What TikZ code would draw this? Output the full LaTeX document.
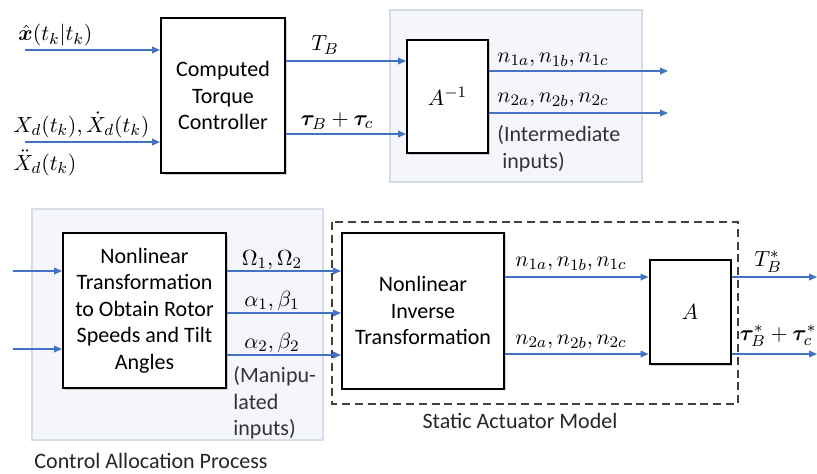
\documentclass[tikz,border=0pt]{standalone}
\usepackage{fontspec}
\setmainfont{Carlito}
\usepackage{amsmath,bm}
\usetikzlibrary{positioning,arrows.meta,shadows}

\definecolor{sigblue}{HTML}{4472C4}
\definecolor{panelfill}{HTML}{F4F6FB}
\definecolor{paneledge}{HTML}{D6DCE8}

\begin{document}
\begin{tikzpicture}[x=0.5pt, y=-0.5pt,
  blk/.style   = {draw, line width=1pt, fill=white, align=center, font=\fontsize{11}{13.3}\selectfont,
                  drop shadow={shadow xshift=0.8pt, shadow yshift=-0.8pt, opacity=.35}},
  sig/.style   = {-{Triangle[length=4pt,width=3.4pt]}, sigblue, line width=0.6pt},
  lab/.style   = {font=\fontsize{11}{13.3}\selectfont, inner sep=0pt},
  note/.style  = {lab, align=left, anchor=north west, text=black!80},
  panel/.style = {draw=paneledge, fill=panelfill, line width=0.6pt},
  grp/.style   = {draw=black!75, dash pattern=on 4pt off 2.4pt, line width=0.7pt}
]
\useasboundingbox (0,0) rectangle (817,473);

% ================= Upper chain: controller and A^{-1} =================
\draw[panel] (390,10) rectangle (642,182);

\node[blk, minimum width=62pt, minimum height=77.5pt]   (ctrl) at (223,95.5) {Computed\\Torque\\Controller};
\node[blk, minimum width=40.5pt, minimum height=56.5pt] (ainv) at (447.5,96.5) {$A^{-1}$};

\coordinate (in1) at (25,50);
\coordinate (in2) at (25,142);
\coordinate (tb)  at (0,61);
\coordinate (tau) at (0,134);
\coordinate (n1)  at (668,71);
\coordinate (n2)  at (668,113);

\draw[sig] (in1) -- (ctrl.west |- in1);
\draw[sig] (in2) -- (ctrl.west |- in2);
\node[lab, anchor=west] (xhat) at (18,35)  {$\hat{\bm{x}}(t_k|t_k)$};
\node[lab, anchor=west] (xd)   at (13,125) {$X_d(t_k), \dot{X}_d(t_k)$};
\node[lab, anchor=west] (xdd)  at (13,163) {$\ddot{X}_d(t_k)$};

\draw[sig] (ctrl.east |- tb)  -- (ainv.west |- tb);
\draw[sig] (ctrl.east |- tau) -- (ainv.west |- tau);
\node[lab] (tblab)  at (325,45)  {$T_B$};
\node[lab] (taulab) at (337,121) {$\bm{\tau}_B + \bm{\tau}_c$};

\draw[sig] (ainv.east |- n1) -- (n1);
\draw[sig] (ainv.east |- n2) -- (n2);
\node[lab, anchor=west] (n1lab) at (497,60)  {$n_{1a}, n_{1b}, n_{1c}$};
\node[lab, anchor=west] (n2lab) at (497,100) {$n_{2a}, n_{2b}, n_{2c}$};
\node[note] (interm) at (497,125) {(Intermediate\\\ inputs)};

% ================= Lower chain: allocation and actuator model =================
\draw[panel] (32,209) rectangle (323,440);
\draw[grp]   (332,222) rectangle (738,404);

\node[blk, minimum width=81.5pt, minimum height=77.5pt] (nlt)  at (144.5,310.5) {Nonlinear\\Transformation\\to Obtain Rotor\\Speeds and Tilt\\Angles};
\node[blk, minimum width=81pt, minimum height=78pt]     (nli)  at (423,310.5)   {Nonlinear\\Inverse\\Transformation};
\node[blk, minimum width=40.5pt, minimum height=52pt]   (amat) at (690,312)     {$A$};

\coordinate (u1)  at (13,271);
\coordinate (u2)  at (13,349);
\coordinate (om)  at (0,271);
\coordinate (ab1) at (0,313);
\coordinate (ab2) at (0,355);
\coordinate (m1)  at (0,277);
\coordinate (m2)  at (0,354);
\coordinate (o1)  at (817,277);
\coordinate (o2)  at (817,354);

\draw[sig] (u1) -- (nlt.west |- u1);
\draw[sig] (u2) -- (nlt.west |- u2);

\draw[sig] (nlt.east |- om)  -- (nli.west |- om);
\draw[sig] (nlt.east |- ab1) -- (nli.west |- ab1);
\draw[sig] (nlt.east |- ab2) -- (nli.west |- ab2);
\node[lab] (omlab)  at (272,260) {$\Omega_1, \Omega_2$};
\node[lab] (ab1lab) at (272,301) {$\alpha_1, \beta_1$};
\node[lab] (ab2lab) at (272,343) {$\alpha_2, \beta_2$};
\node[note] (manip) at (233,366) {(Manipu-\\lated\\inputs)};

\draw[sig] (nli.east |- m1) -- (amat.west |- m1);
\draw[sig] (nli.east |- m2) -- (amat.west |- m2);
\node[lab] (m1lab) at (571,264) {$n_{1a}, n_{1b}, n_{1c}$};
\node[lab] (m2lab) at (571,342) {$n_{2a}, n_{2b}, n_{2c}$};

\draw[sig] (amat.east |- o1) -- (o1);
\draw[sig] (amat.east |- o2) -- (o2);
\node[lab] (tbs)  at (768,262) {$T_B^*$};
\node[lab] (taus) at (778,336) {$\bm{\tau}_B^* + \bm{\tau}_c^*$};

\node[lab, text=black!85] (sam) at (520,421) {Static Actuator Model};
\node[lab, text=black!85] (cap) at (151,461) {Control Allocation Process};

\end{tikzpicture}
\end{document}
